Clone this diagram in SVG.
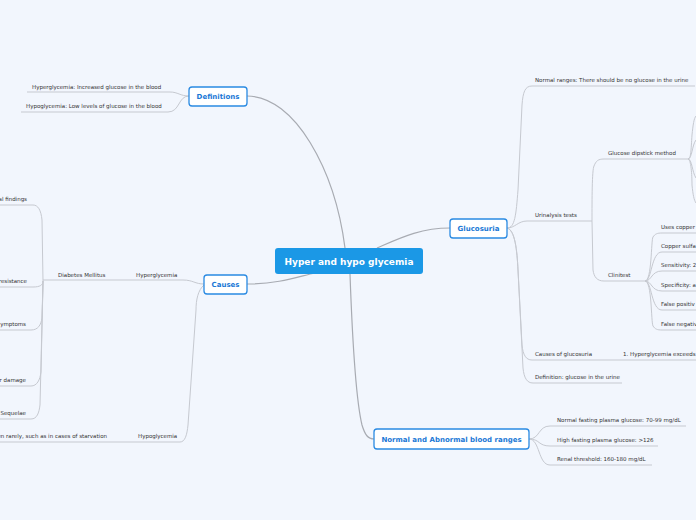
<svg xmlns="http://www.w3.org/2000/svg" width="696" height="520" viewBox="0 0 696 520">
<style>
.bg{fill:#f2f6fd}
.main{fill:none;stroke:#a8abb2;stroke-width:1.2}
.br{fill:none;stroke:#c6c9d0;stroke-width:1}
.lbl{font-family:"DejaVu Sans",Verdana,sans-serif;font-size:5.5px;fill:#333333}
.nd{fill:#ffffff;stroke:#2a8ae2;stroke-width:1.3}
.ndt{font-family:"DejaVu Sans",Verdana,sans-serif;font-size:7px;font-weight:bold;fill:#1a78d6;text-anchor:middle}
.root{fill:#1b98e6}
.roott{font-family:"DejaVu Sans",Verdana,sans-serif;font-size:9px;font-weight:bold;fill:#ffffff;text-anchor:middle}
.e{text-anchor:end}
</style>
<rect class="bg" x="0" y="0" width="696" height="520"/>
<g id="connectors">
  <path class="main" d="M247,96 C295,96 335,170 345,248"/>
  <path class="main" d="M247,284 C280,284 300,276 315,273"/>
  <path class="main" d="M377,248 C400,238 420,228 450,228"/>
  <path class="main" d="M350,274 C352,330 356,400 362,425 C365,435 368,439 374,439"/>
  <path class="br" d="M189,96 C180,96 178,92 170,92 L27,92"/>
  <path class="br" d="M189,96 C178,96 180,112 168,112 L21,112"/>
  <path class="br" d="M204,284 C195,284 193,280 183,280 L43,280"/>
  <path class="br" d="M204,285 C198,290 196,300 196,310 L188,425 C187,435 185,442 180,442 L0,442"/>
  <path class="br" d="M43,281 L42,220 C41,210 38,205 33,205 L0,205"/>
  <path class="br" d="M43,281 C43,285 40,287 33,287 L0,287"/>
  <path class="br" d="M43,281 L42,318 C41,325 38,330 31,330 L0,330"/>
  <path class="br" d="M43,281 L41,372 C40,380 37,386 31,386 L0,386"/>
  <path class="br" d="M43,281 L40,405 C39,413 37,419 31,419 L0,419"/>
  <path class="br" d="M507,228 C515,228 516,215 518,190 L522,105 C523,92 525,86 532,86 L695,86"/>
  <path class="br" d="M507,228 C515,228 518,221 527,221 L592,221"/>
  <path class="br" d="M507,228 C515,230 517,250 518,270 L522,345 C523,355 526,360 532,360 L696,360"/>
  <path class="br" d="M507,228 C515,230 517,250 518,270 L523,368 C524,378 527,383 533,383 L622,383"/>
  <path class="br" d="M592,221 C592,200 592,170 594,166 C596,161 598,159 604,159 L688,159"/>
  <path class="br" d="M592,221 L593,270 C594,277 597,281 604,281 L645,281"/>
  <path class="br" d="M688,159 C691,159 691,150 692,135 C693,125 694,118 696,116"/>
  <path class="br" d="M688,159 C692,159 692,145 696,140"/>
  <path class="br" d="M688,159 C692,159 692,172 696,178"/>
  <path class="br" d="M688,159 C691,159 692,175 692,185 C693,195 694,200 696,203"/>
  <path class="br" d="M645,281 C652,281 651,240 653,237 C655,234 657,233 662,233 L696,233"/>
  <path class="br" d="M645,281 C652,281 651,252 662,252 L696,252"/>
  <path class="br" d="M645,281 C652,281 651,271 662,271 L696,271"/>
  <path class="br" d="M645,281 C652,281 651,291 662,291 L696,291"/>
  <path class="br" d="M645,281 C652,281 651,310 662,310 L696,310"/>
  <path class="br" d="M645,281 C652,281 651,322 653,326 C655,329 657,330 662,330 L696,330"/>
  <path class="br" d="M529,439 C540,439 538,426 550,426 L686,426"/>
  <path class="br" d="M529,439 C540,439 538,446 550,446 L658,446"/>
  <path class="br" d="M529,439 C540,439 538,465 550,465 L652,465"/>
</g>
<g id="root">
  <rect class="root" x="275" y="248" width="148" height="26" rx="3"/>
  <text class="roott" x="349" y="265">Hyper and hypo glycemia</text>
</g>
<g id="definitions">
  <rect class="nd" x="189" y="87" width="58" height="19" rx="3"/>
  <text class="ndt" x="218" y="99">Definitions</text>
</g>
<g id="def-hyper"><text class="lbl" x="32" y="89">Hyperglycemia: Increased glucose in the blood</text></g>
<g id="def-hypo"><text class="lbl" x="26" y="108">Hypoglycemia: Low levels of glucose in the blood</text></g>
<g id="causes">
  <rect class="nd" x="204" y="275" width="43" height="19" rx="3"/>
  <text class="ndt" x="225.5" y="287">Causes</text>
</g>
<g id="c-hyper"><text class="lbl" x="136" y="277">Hyperglycemia</text></g>
<g id="c-dm"><text class="lbl" x="58" y="277">Diabetes Mellitus</text></g>
<g id="c-hypo"><text class="lbl" x="138" y="438">Hypoglycemia</text></g>
<g id="c-hypo-1"><text class="lbl e" x="107" y="438">en rarely, such as in cases of starvation</text></g>
<g id="dm-1"><text class="lbl e" x="27" y="201">al findings</text></g>
<g id="dm-2"><text class="lbl e" x="27" y="283">resistance</text></g>
<g id="dm-3"><text class="lbl e" x="26" y="326">ymptoms</text></g>
<g id="dm-4"><text class="lbl e" x="26" y="382">r damage</text></g>
<g id="dm-5"><text class="lbl e" x="26" y="415">Sequelae</text></g>
<g id="glucosuria">
  <rect class="nd" x="450" y="219" width="57" height="19" rx="3"/>
  <text class="ndt" x="478.5" y="231">Glucosuria</text>
</g>
<g id="g-normal"><text class="lbl" x="535" y="82">Normal ranges: There should be no glucose in the urine</text></g>
<g id="g-urin"><text class="lbl" x="535" y="217">Urinalysis tests</text></g>
<g id="u-dip"><text class="lbl" x="608" y="155">Glucose dipstick method</text></g>
<g id="u-clini"><text class="lbl" x="608" y="277">Clinitest</text></g>
<g id="cl-1"><text class="lbl" x="661" y="229">Uses copper</text></g>
<g id="cl-2"><text class="lbl" x="661" y="248">Copper sulfa</text></g>
<g id="cl-3"><text class="lbl" x="661" y="267">Sensitivity: 2</text></g>
<g id="cl-4"><text class="lbl" x="661" y="287">Specificity: a</text></g>
<g id="cl-5"><text class="lbl" x="661" y="306">False positiv</text></g>
<g id="cl-6"><text class="lbl" x="661" y="326">False negativ</text></g>
<g id="g-causes"><text class="lbl" x="535" y="356">Causes of glucosuria</text></g>
<g id="gc-1"><text class="lbl" x="623" y="356">1. Hyperglycemia exceeds</text></g>
<g id="g-def"><text class="lbl" x="535" y="379">Definition: glucose in the urine</text></g>
<g id="ranges">
  <rect class="nd" x="374" y="429" width="155" height="20" rx="3"/>
  <text class="ndt" x="451.5" y="441.5">Normal and Abnormal blood ranges</text>
</g>
<g id="r-1"><text class="lbl" x="557" y="422">Normal fasting plasma glucose: 70-99 mg/dL</text></g>
<g id="r-2"><text class="lbl" x="557" y="442">High fasting plasma glucose: &gt;126</text></g>
<g id="r-3"><text class="lbl" x="557" y="461">Renal threshold: 160-180 mg/dL</text></g>
</svg>
